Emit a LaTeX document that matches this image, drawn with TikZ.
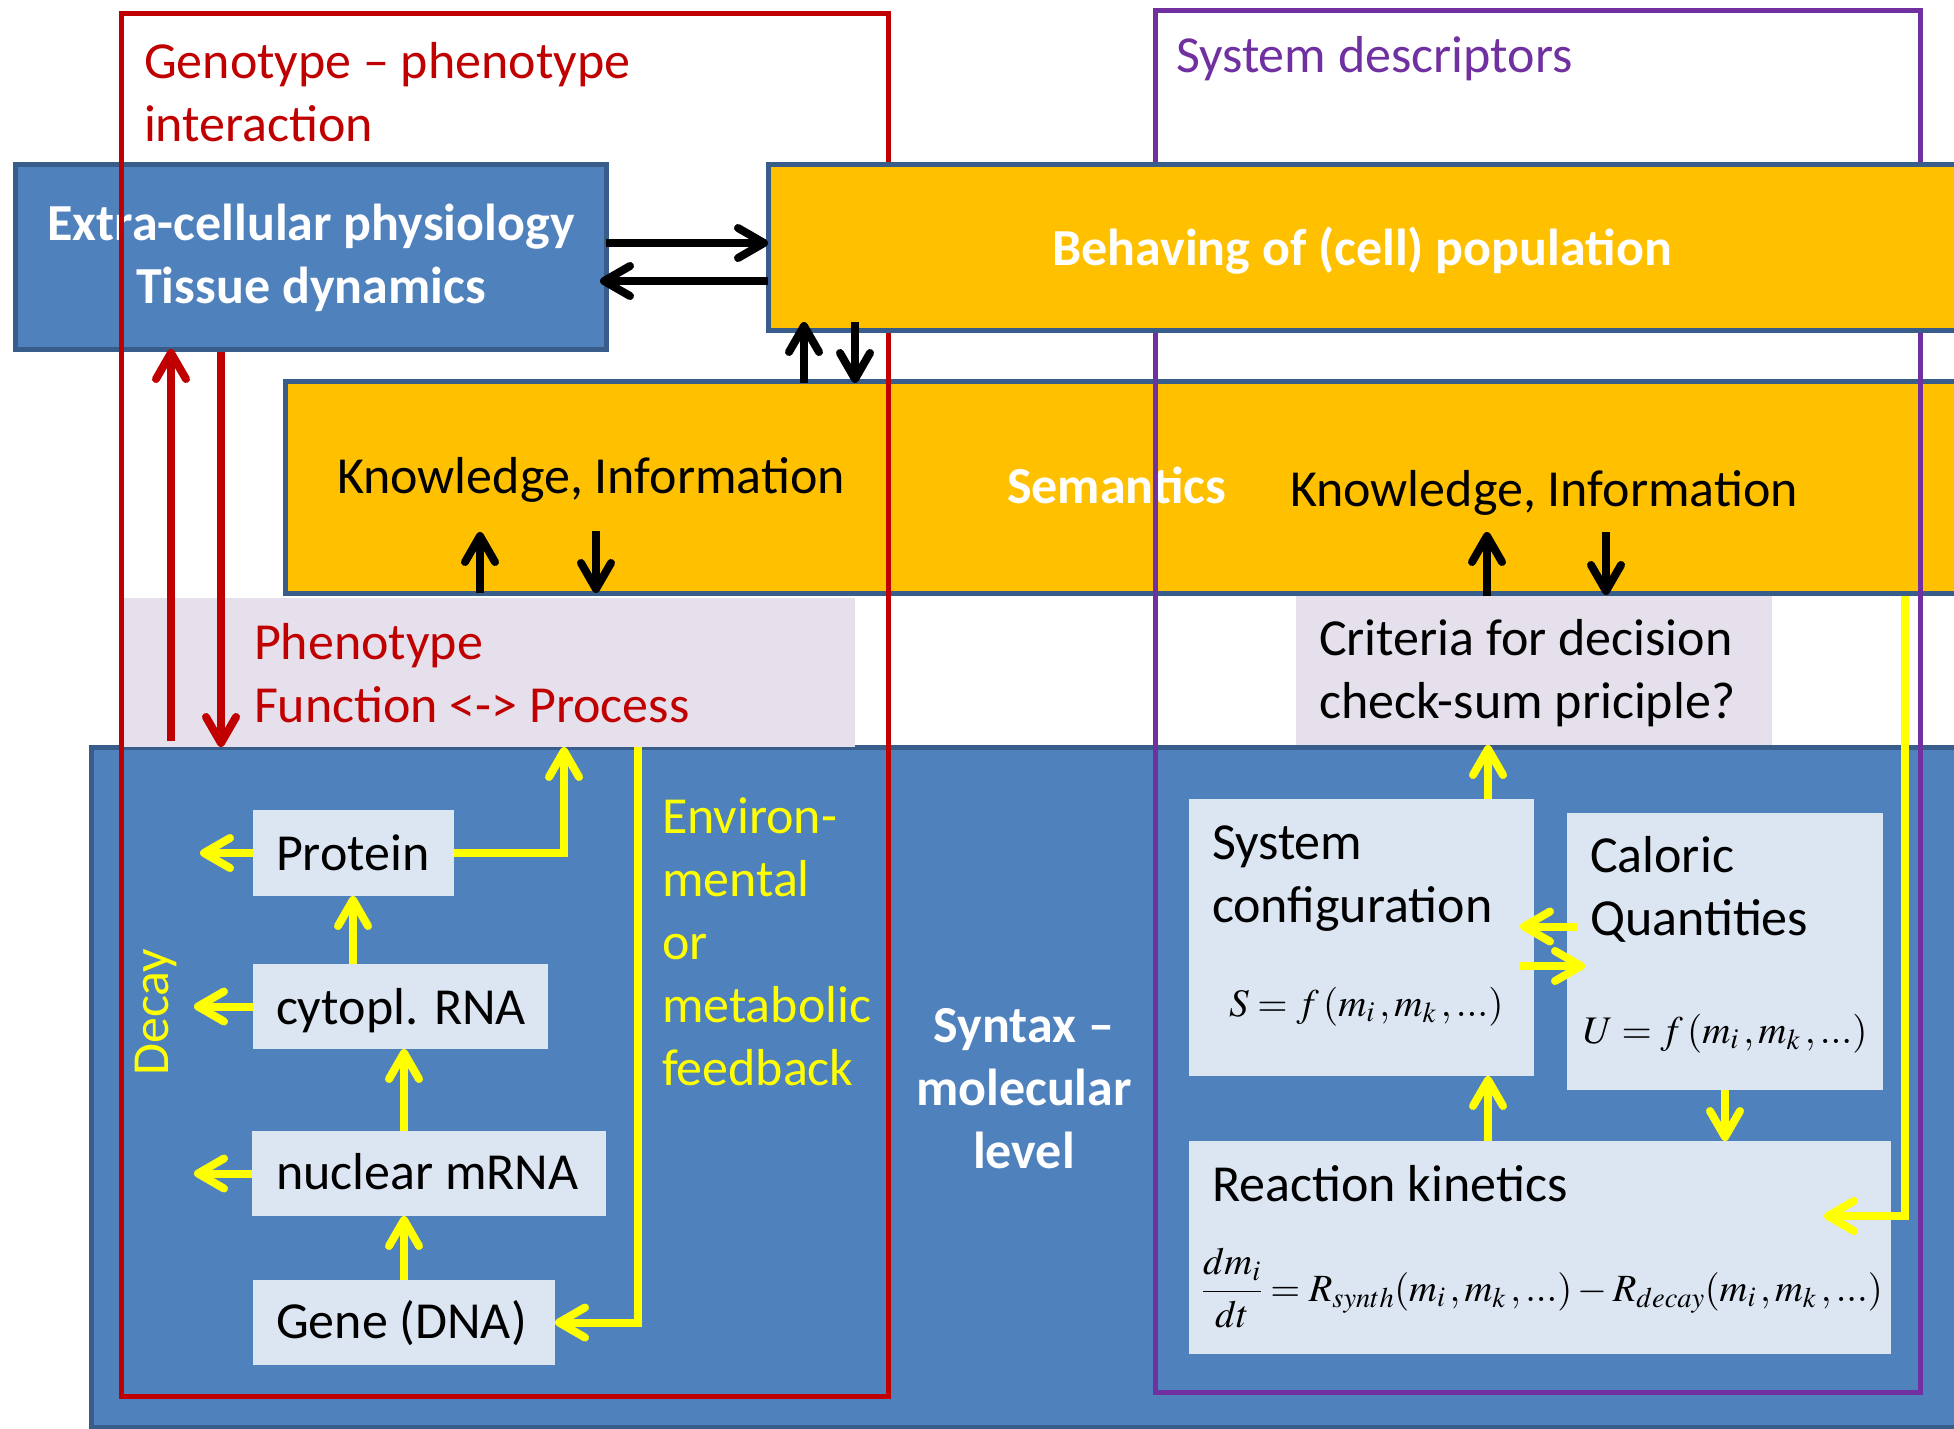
\documentclass[tikz,border=0pt]{standalone}
\usepackage{mathptmx}
\usepackage[no-math]{fontspec}
\setmainfont{Carlito}
\usetikzlibrary{arrows.meta,calc}

\definecolor{boxblue}{HTML}{4F81BD}
\definecolor{edgeblue}{HTML}{385D8A}
\definecolor{boxorange}{HTML}{FFC000}
\definecolor{boxlight}{HTML}{DCE6F2}
\definecolor{boxlav}{HTML}{E6E0EC}
\definecolor{gred}{HTML}{C00000}
\definecolor{spurple}{HTML}{7030A0}
\definecolor{fyellow}{HTML}{FFFF00}

% multi-line text nodes are placed by the baseline of their last line
\tikzset{
  shapebox/.style={rectangle, inner sep=0pt, outer sep=0pt, anchor=north west},
  bluebox/.style={shapebox, draw=edgeblue, line width=5pt, fill=boxblue},
  orangebox/.style={shapebox, draw=edgeblue, line width=5pt, fill=boxorange},
  lavbox/.style={shapebox, fill=boxlav},
  lightbox/.style={shapebox, fill=boxlight},
  framebox/.style={shapebox, draw, line width=5pt},
  txt/.style={inner sep=0pt, outer sep=0pt, anchor=base west, align=left,
    font=\fontsize{52}{63}\selectfont},
  ctxt/.style={txt, anchor=base, align=center},
  btxt/.style={ctxt, text=white, font=\fontsize{52}{63}\selectfont\bfseries},
  eqn/.style={inner sep=0pt, outer sep=0pt, anchor=base west,
    font=\fontsize{39}{44}\selectfont},
  headstyle/.style={-{Straight Barb[length=26pt, width=30pt, round]}},
  blackarrow/.style={headstyle, draw=black, line width=8pt},
  redarrow/.style={headstyle, draw=gred, line width=8pt},
  yellowarrow/.style={headstyle, draw=fyellow, line width=8pt, line join=miter},
}

\begin{document}
\begin{tikzpicture}[x=1pt, y=-1pt]
\useasboundingbox (0,0) rectangle (1954,1429);
\clip (0,0) rectangle (1954,1429);

% molecular level panel
\node[bluebox, minimum width=2000pt, minimum height=680pt] (syn) at (91,747) {};
\node[btxt] (syntxt) at (1024,1168) {Syntax --\\molecular\\level};
\node[txt, text=fyellow] (envtxt) at (662,1085)
  {Environ-\\mental\\or\\metabolic\\feedback};
\node[txt, text=fyellow, rotate=90, anchor=base] (decay) at (168,1012) {Decay};

% semantics band
\node[orangebox, minimum width=1700pt, minimum height=212pt] (sem) at (285,381) {};
\node[txt] (know1) at (337,493) {Knowledge, Information};
\node[txt] (know2) at (1290,506) {Knowledge, Information};
\node[btxt, anchor=base west] (semtxt) at (1007,503) {Semantics};

% tissue level
\node[bluebox, minimum width=591pt, minimum height=184.5pt] (ext) at (15,164.5) {};
\node[btxt] (exttxt) at (311,303) {Extra-cellular physiology\\Tissue dynamics};

% phenotype and decision criteria
\node[lavbox, minimum width=735pt, minimum height=149pt] (phen) at (120,598) {};
\node[txt, text=gred] (phentxt) at (254,722) {Phenotype\\Function <-> Process};
\node[lavbox, minimum width=476pt, minimum height=149pt] (crit) at (1296,596) {};
\node[txt] (crittxt) at (1319,718) {Criteria for decision\\check-sum priciple?};

% gene expression chain
\node[lightbox, minimum width=201pt, minimum height=86pt] (prot) at (253,810) {};
\node[txt] at (276,870) {Protein};
\node[lightbox, minimum width=295pt, minimum height=85pt] (cyto) at (253,964) {};
\node[txt] at (276,1024) {cytopl. RNA};
\node[lightbox, minimum width=354pt, minimum height=85pt] (nuc) at (252,1131) {};
\node[txt] at (276,1189) {nuclear mRNA};
\node[lightbox, minimum width=302pt, minimum height=85pt] (gene) at (253,1280) {};
\node[txt] at (276,1338) {Gene (DNA)};

% system descriptors
\node[lightbox, minimum width=345pt, minimum height=277pt] (sys) at (1189,799) {};
\node[txt] at (1212,922) {System\\configuration};
\node[eqn] at (1229,1016) {$S=f\,(m_i\,,m_k\,,...)$};
\node[lightbox, minimum width=316pt, minimum height=277pt] (cal) at (1567,813) {};
\node[txt] at (1590,935) {Caloric\\Quantities};
\node[eqn] at (1583,1043) {$U=f\,(m_i\,,m_k\,,...)$};
\node[lightbox, minimum width=702pt, minimum height=213pt] (reac) at (1189,1141) {};
\node[txt] at (1212,1201) {Reaction kinetics};
\node[eqn, font=\fontsize{38.5}{44}\selectfont] at (1202,1301)
  {$\displaystyle\frac{dm_i}{dt}=R_{synth}(m_i\,,m_k\,,...)-R_{decay}(m_i\,,m_k\,,...)$};

% grouping frames
\node[framebox, draw=gred, minimum width=767pt, minimum height=1382pt] (gframe) at (121,14) {};
\node[framebox, draw=spurple, minimum width=765pt, minimum height=1381pt] (sframe) at (1155,11) {};
\node[txt, text=gred] at (144,141) {Genotype -- phenotype\\interaction};
\node[txt, text=spurple] at (1176,73) {System descriptors};

% population level
\node[orangebox, minimum width=1200pt, minimum height=166pt] (beh) at (768,164.5) {};
\node[btxt] (behtxt) at (1362,265) {Behaving of (cell) population};

% tissue <-> population
\draw[blackarrow] ([yshift=13.75pt]ext.east) -- ([yshift=13.75pt]ext.east -| beh.west);
\draw[blackarrow] ([yshift=-24.25pt]ext.east -| beh.west) -- ([yshift=-24.25pt,xshift=-6pt]ext.east);

% population <-> semantics
\draw[blackarrow] ($(beh.south west)+(36,52.5)$) -- ($(beh.south west)+(36,-8.5)$);
\draw[blackarrow] ($(beh.south west)+(87,-8.5)$) -- ($(beh.south west)+(87,52.5)$);

% semantics <-> phenotype
\draw[blackarrow] ($(sem.south west)+(195,0)$) -- ($(sem.south west)+(195,-61)$);
\draw[blackarrow] ($(sem.south west)+(311,-62)$) -- ($(sem.south west)+(311,0)$);

% semantics <-> decision criteria
\draw[blackarrow] ($(crit.north west)+(191,0)$) -- ($(crit.north west)+(191,-64)$);
\draw[blackarrow] ($(crit.north west)+(310,-64)$) -- ($(crit.north west)+(310,-1)$);

% tissue <-> phenotype
\draw[redarrow] ($(phen.south west)+(51,-6)$) -- ($(ext.south west)+(156,0)$);
\draw[redarrow] ($(ext.south west)+(206,3)$) -- ($(phen.south west)+(101,0)$);

% expression chain
\draw[yellowarrow] ($(gene.north west)+(151,0)$) -- ($(nuc.south west)+(152,0)$);
\draw[yellowarrow] ($(nuc.north west)+(152,0)$) -- ($(cyto.south west)+(151,0)$);
\draw[yellowarrow] ($(cyto.north west)+(100,0)$) -- ($(prot.south west)+(100,0)$);
\draw[yellowarrow] (prot.east) -| ($(phen.south west)+(444,0)$);
\draw[yellowarrow] (prot.west) -- ($(prot.west)+(-53,0)$);
\draw[yellowarrow] (cyto.west) -- ($(cyto.west)+(-59,0)$);
\draw[yellowarrow] (nuc.west) -- ($(nuc.west)+(-58,0)$);
\draw[yellowarrow] ($(phen.south west)+(518,0)$) |- (gene.east);

% system descriptors
\draw[yellowarrow] ($(sys.north west)+(299,0)$) -- ($(crit.south west)+(192,0)$);
\draw[yellowarrow] ($(cal.north west)+(11,113.5)$) -- ($(sys.north east)+(-14,127.5)$);
\draw[yellowarrow] ($(sys.north east)+(-15,167)$) -- ($(cal.north west)+(18,153)$);
\draw[yellowarrow] ($(reac.north west)+(299,0)$) -- ($(sys.south west)+(299,0)$);
\draw[yellowarrow] ($(cal.south west)+(158,0)$) -- ($(reac.north west)+(536,0)$);
\draw[yellowarrow] ($(sem.south west)+(1620,3)$) |- ($(reac.north east)+(-67,75)$);
\end{tikzpicture}
\end{document}
